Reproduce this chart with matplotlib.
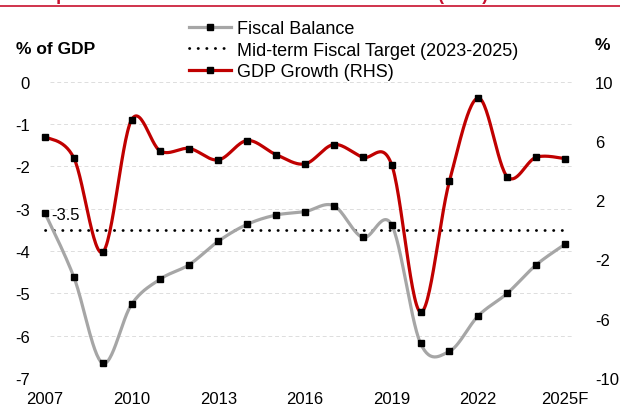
import numpy as np
import matplotlib.pyplot as plt
from matplotlib.lines import Line2D

plt.rcParams['font.family'] = ['Liberation Sans', 'DejaVu Sans']
plt.rcParams['axes.unicode_minus'] = False

# annual data, 2025 is a forecast
years = list(range(2007, 2026))
tick_years = [2007, 2010, 2013, 2016, 2019, 2022, 2025]
tick_labels = ['2007', '2010', '2013', '2016', '2019', '2022', '2025F']
fiscal_balance = [-3.10, -4.61, -6.65, -5.26, -4.66, -4.32, -3.77, -3.37, -3.15, -3.07,
                  -2.93, -3.68, -3.38, -6.18, -6.37, -5.53, -5.00, -4.33, -3.84]
gdp_growth = [6.3, 4.86, -1.51, 7.43, 5.31, 5.49, 4.72, 6.03, 5.08, 4.45,
              5.76, 4.90, 4.41, -5.55, 3.28, 8.90, 3.59, 4.90, 4.81]
fiscal_target = -3.5
left_ticks = list(range(-7, 1))
right_ticks = [-10, -6, -2, 2, 6, 10]

GREY = '#A6A6A6'
RED = '#C00000'
TITLE_RED = '#C8102E'


def smooth(x, y, n=30):
    # Catmull-Rom style bezier through every point (like a "smoothed line" chart)
    p = np.column_stack([x, y]).astype(float)
    p = np.vstack([p[0], p, p[-1]])
    t = np.linspace(0, 1, n)[:, None]
    out = []
    for i in range(1, len(p) - 2):
        p0, p1, p2, p3 = p[i - 1], p[i], p[i + 1], p[i + 2]
        c1 = p1 + (p2 - p0) / 6
        c2 = p2 - (p3 - p1) / 6
        seg = ((1 - t) ** 3) * p1 + 3 * ((1 - t) ** 2) * t * c1 + 3 * (1 - t) * t ** 2 * c2 + t ** 3 * p2
        out.append(seg if i == 1 else seg[1:])
    out = np.vstack(out)
    return out[:, 0], out[:, 1]


fig = plt.figure(figsize=(6.2, 4.06), dpi=100)
ax = fig.add_axes([42 / 620, 0.0665, 530 / 620, 0.7298])
ax2 = ax.twinx()

x_left, x_right = 2006.90, 2025.243

# dashed gridlines (plot area starts a little right of the first year)
ax.hlines(left_ticks, 2007.17, x_right, colors='#DDDDDD', linestyles=(0, (4, 3)), lw=0.7, zorder=0)

# fiscal balance, left axis
sx, sy = smooth(years, fiscal_balance)
ax.plot(sx, sy, color=GREY, lw=2.3, solid_capstyle='round', clip_on=False, zorder=3)
ax.plot(years, fiscal_balance, ls='none', marker='s', ms=4.6, color='black', clip_on=False, zorder=4)

# mid-term target
ax.plot([years[0], years[-1]], [fiscal_target] * 2, color='black', lw=2.0,
        ls=(0, (0.1, 3)), dash_capstyle='round', clip_on=False, zorder=2)
ax.text(2007.22, fiscal_target + 0.36, '-3.5', fontsize=12, va='center', ha='left', zorder=5)

# GDP growth, right axis
gx, gy = smooth(years, gdp_growth)
ax2.plot(gx, gy, color=RED, lw=2.3, solid_capstyle='round', clip_on=False, zorder=3)
ax2.plot(years, gdp_growth, ls='none', marker='s', ms=4.6, color='black', clip_on=False, zorder=4)

ax.set_yticks(left_ticks)
ax2.set_yticks(right_ticks)
ax.set_xticks(tick_years)
ax.set_xticklabels(tick_labels)
ax.set_xlim(x_left, x_right)
ax.set_ylim(-7, 0)
ax2.set_ylim(-10, 10)

for a in (ax, ax2):
    for s in a.spines.values():
        s.set_visible(False)
ax.tick_params(axis='y', length=0, labelsize=12, pad=8.8)
ax.tick_params(axis='x', length=0, labelsize=12, pad=9)
ax2.tick_params(axis='y', length=0, labelsize=12, pad=16.5)

# axis unit labels
fig.text(16 / 620, 1 - 49 / 406, '% of GDP', fontsize=12.5, fontweight='bold', va='center', ha='left')
fig.text(595 / 620, 1 - 45 / 406, '%', fontsize=12.5, fontweight='bold', va='center', ha='left')

# legend
handles = [
    Line2D([], [], color=GREY, lw=2.3, marker='s', ms=4.6, mfc='black', mec='black'),
    Line2D([], [], color='black', lw=2.0, ls=(0, (0.1, 3)), dash_capstyle='round'),
    Line2D([], [], color=RED, lw=2.3, marker='s', ms=4.6, mfc='black', mec='black'),
]
labels = ['Fiscal Balance', 'Mid-term Fiscal Target (2023-2025)', 'GDP Growth (RHS)']
fig.legend(handles, labels, loc='upper left', bbox_to_anchor=(189 / 620, 1 - 21 / 406),
           frameon=False, fontsize=13, handlelength=2.35, handletextpad=0.3,
           labelspacing=0.25, borderpad=0, borderaxespad=0, numpoints=1)

# title strip at the top of the page
fig.text(16 / 620, 1 + 0.5 / 406, 'Compared: Fiscal Balance and Real GDP Growth (RHS)',
         fontsize=13, fontweight='bold', color=TITLE_RED, va='baseline', ha='left')
fig.add_artist(Line2D([0, 1], [1 - 7 / 406] * 2, color=TITLE_RED, lw=1.2, transform=fig.transFigure))

fig.savefig('out.png', dpi=100)
